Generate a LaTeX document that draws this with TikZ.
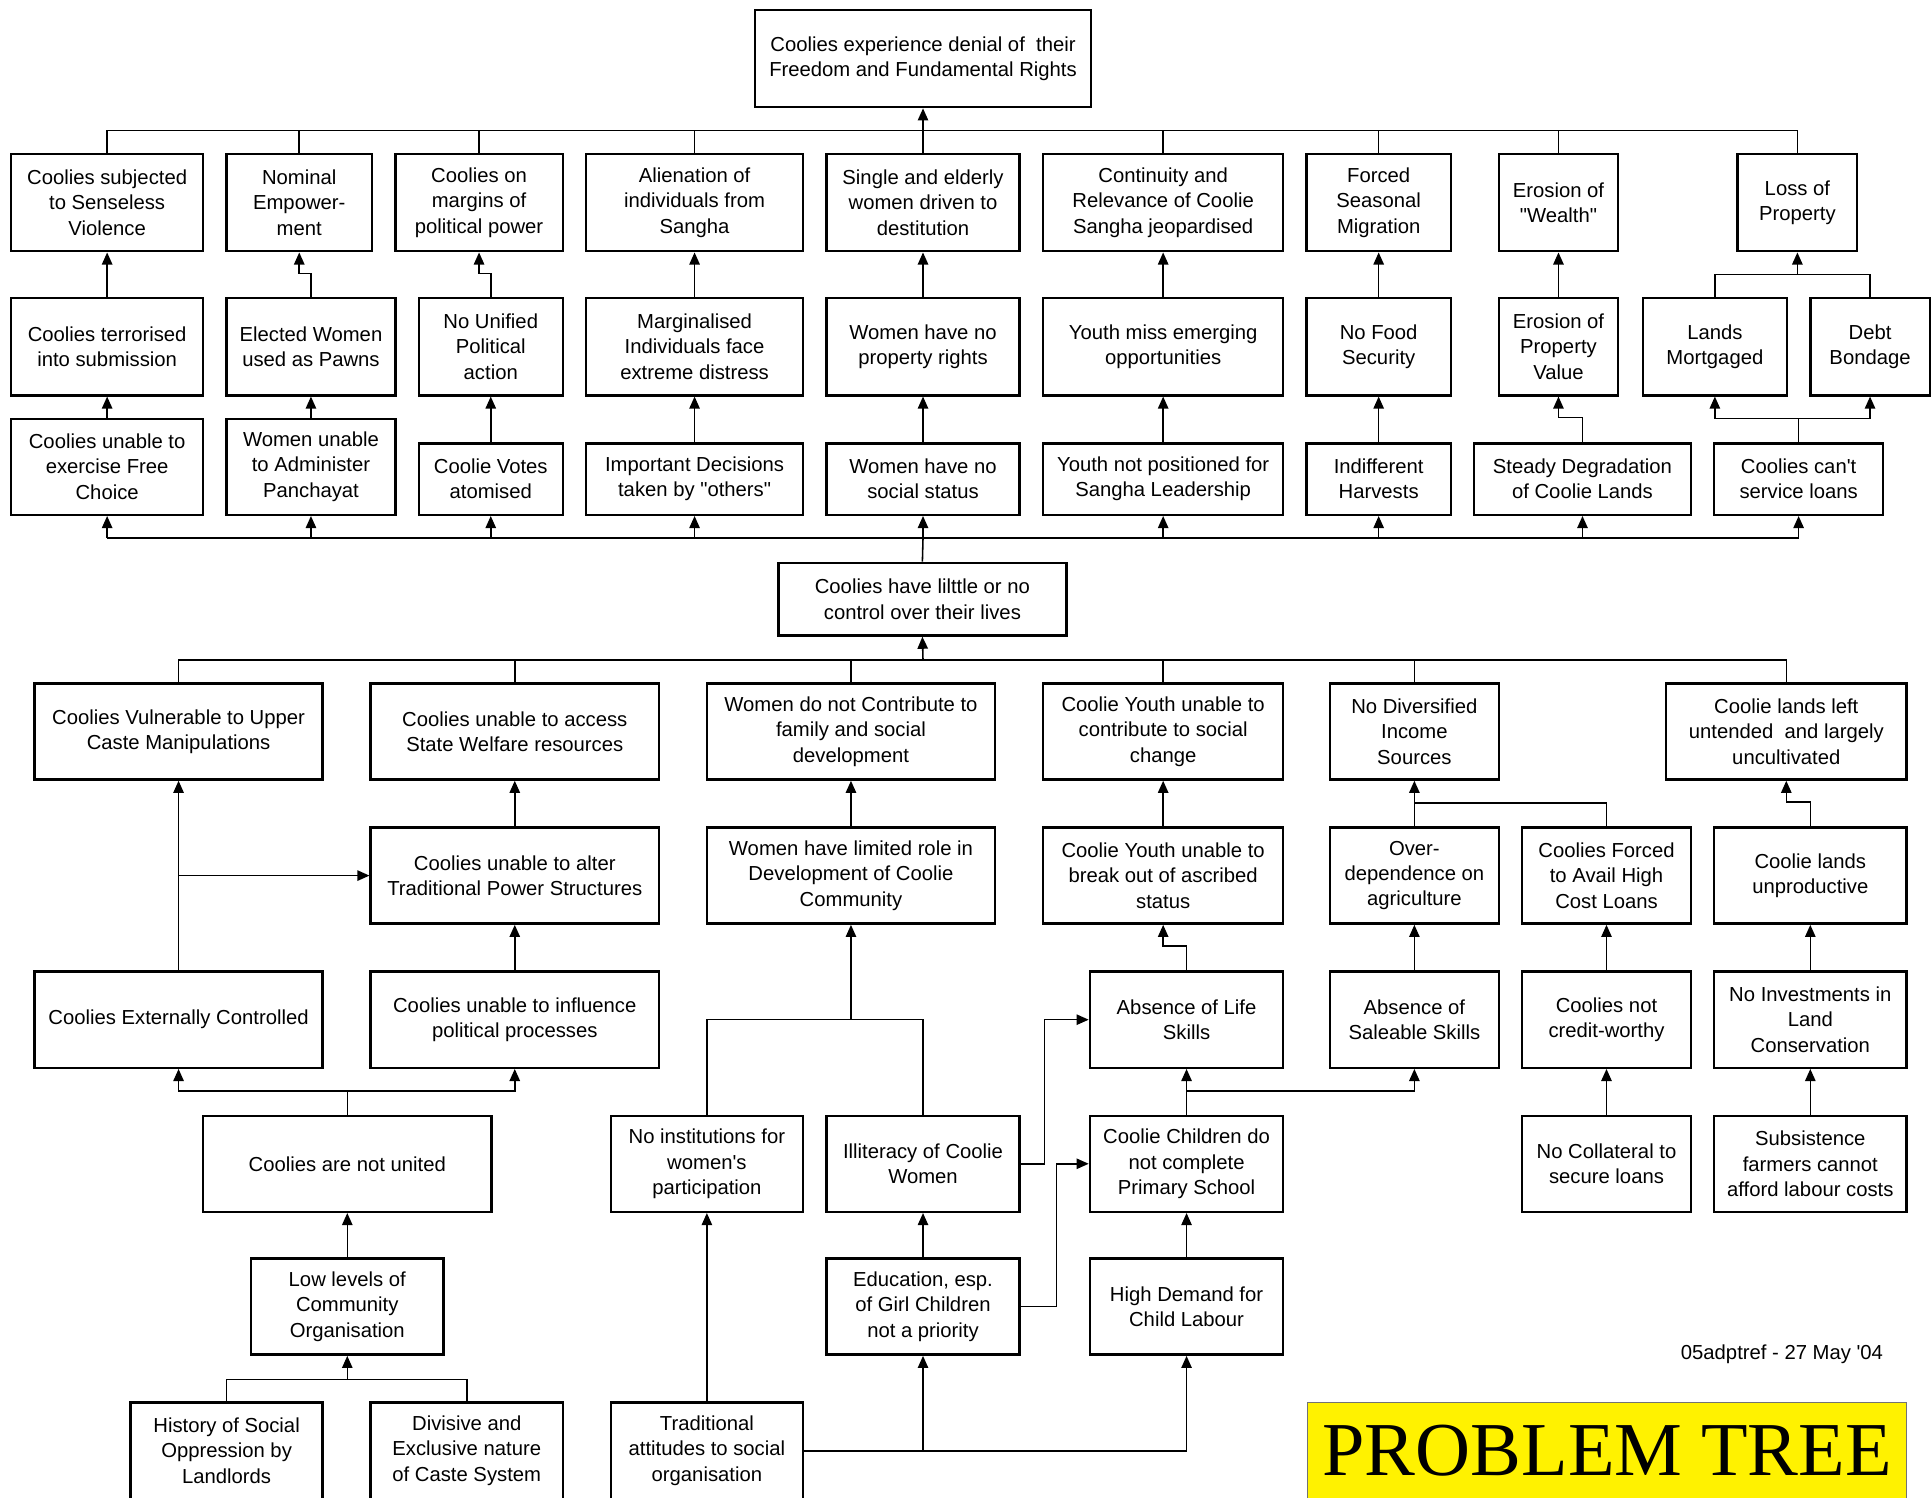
\documentclass[tikz,border=0pt]{standalone}
\usepackage{fontspec}
\usepackage{tikz}
\usetikzlibrary{arrows.meta}
\newfontfamily\treefont{Liberation Sans}
\newfontfamily\bannerfont{Liberation Serif}

\begin{document}
\begin{tikzpicture}[x=0.025cm,y=-0.025cm,
  box/.style={draw,line width=1.4pt,align=center,inner sep=0pt,
    font=\treefont\fontsize{11.7}{14.6}\selectfont},
  wd/.style={minimum width=#1*0.025cm},
  ht/.style={minimum height=#1*0.025cm},
  conn/.style={line width=0.9pt},
  arr/.style={line width=0.9pt,-{Triangle[length=7pt,width=6pt]}}]
\useasboundingbox (0,0) rectangle (1568,1216);
\clip (0,0) rectangle (1568,1216);

% the core problem on top
\node[box,wd=273,ht=79] (root) at (749.5,47.5) {Coolies experience denial of\ \ their\\Freedom and Fundamental Rights};

% effects
\node[box,wd=156,ht=79] (ua1) at (87,164.5) {Coolies subjected\\to Senseless\\Violence};
\node[box,wd=118,ht=79] (ua2) at (243,164.5) {Nominal\\Empower-\\ment};
\node[box,wd=136,ht=79] (ua3) at (389,164.5) {Coolies on\\margins of\\political power};
\node[box,wd=176,ht=79] (ua4) at (564,164.5) {Alienation of\\individuals from\\Sangha};
\node[box,wd=157,ht=79] (ua5) at (749.5,164.5) {Single and elderly\\women driven to\\destitution};
\node[box,wd=195,ht=79] (ua6) at (944.5,164.5) {Continuity and\\Relevance of Coolie\\Sangha jeopardised};
\node[box,wd=117,ht=79] (ua7) at (1119.5,164.5) {Forced\\Seasonal\\Migration};
\node[box,wd=97,ht=79] (ua8) at (1265.5,164.5) {Erosion of\\"Wealth"};
\node[box,wd=97,ht=79] (ua9) at (1459.5,164.5) {Loss of\\Property};

\node[box,wd=156,ht=79] (ub1) at (87,281.5) {Coolies terrorised\\into submission};
\node[box,wd=137,ht=79] (ub2) at (252.5,281.5) {Elected Women\\used as Pawns};
\node[box,wd=117,ht=79] (ub3) at (398.5,281.5) {No Unified\\Political\\action};
\node[box,wd=176,ht=79] (ub4) at (564,281.5) {Marginalised\\Individuals face\\extreme distress};
\node[box,wd=157,ht=79] (ub5) at (749.5,281.5) {Women have no\\property rights};
\node[box,wd=195,ht=79] (ub6) at (944.5,281.5) {Youth miss emerging\\opportunities};
\node[box,wd=117,ht=79] (ub7) at (1119.5,281.5) {No Food\\Security};
\node[box,wd=97,ht=79] (ub8) at (1265.5,281.5) {Erosion of\\Property\\Value};
\node[box,wd=117,ht=79] (ub9) at (1392.5,281.5) {Lands\\Mortgaged};
\node[box,wd=97,ht=79] (ub10) at (1518.5,281.5) {Debt\\Bondage};

\node[box,wd=156,ht=78] (uc1) at (87,379) {Coolies unable to\\exercise Free\\Choice};
\node[box,wd=137,ht=78] (uc2) at (252.5,379) {Women unable\\to Administer\\Panchayat};
\node[box,wd=117,ht=58] (uc3) at (398.5,389) {Coolie Votes\\atomised};
\node[box,wd=176,ht=58] (uc4) at (564,389) {Important Decisions\\taken by "others"};
\node[box,wd=157,ht=58] (uc5) at (749.5,389) {Women have no\\social status};
\node[box,wd=195,ht=58] (uc6) at (944.5,389) {Youth not positioned for\\Sangha Leadership};
\node[box,wd=117,ht=58] (uc7) at (1119.5,389) {Indifferent\\Harvests};
\node[box,wd=176,ht=58] (uc8) at (1285,389) {Steady Degradation\\of Coolie Lands};
\node[box,wd=137,ht=58] (uc9) at (1460.5,389) {Coolies can't\\service loans};

\node[box,wd=234,ht=59] (core) at (749,486.5) {Coolies have lilttle or no\\control over their lives};

% causes
\node[box,wd=234,ht=78] (la1) at (145,594) {Coolies Vulnerable to Upper\\Caste Manipulations};
\node[box,wd=234,ht=78] (la2) at (418,594) {Coolies unable to access\\State Welfare resources};
\node[box,wd=234,ht=78] (la3) at (691,594) {Women do not Contribute to\\family and social\\development};
\node[box,wd=195,ht=78] (la4) at (944.5,594) {Coolie Youth unable to\\contribute to social\\change};
\node[box,wd=137,ht=78] (la5) at (1148.5,594) {No Diversified\\Income\\Sources};
\node[box,wd=195,ht=78] (la6) at (1450.5,594) {Coolie lands left\\untended\ \ and largely\\uncultivated};

\node[box,wd=234,ht=78] (lb1) at (418,711) {Coolies unable to alter\\Traditional Power Structures};
\node[box,wd=234,ht=78] (lb2) at (691,711) {Women have limited role in\\Development of Coolie\\Community};
\node[box,wd=195,ht=78] (lb3) at (944.5,711) {Coolie Youth unable to\\break out of ascribed\\status};
\node[box,wd=137,ht=78] (lb4) at (1148.5,711) {Over-\\dependence on\\agriculture};
\node[box,wd=137,ht=78] (lb5) at (1304.5,711) {Coolies Forced\\to Avail High\\Cost Loans};
\node[box,wd=156,ht=78] (lb6) at (1470,711) {Coolie lands\\unproductive};

\node[box,wd=234,ht=78] (lc1) at (145,828) {Coolies Externally Controlled};
\node[box,wd=234,ht=78] (lc2) at (418,828) {Coolies unable to influence\\political processes};
\node[box,wd=157,ht=78] (lc3) at (963.5,828) {Absence of Life\\Skills};
\node[box,wd=137,ht=78] (lc4) at (1148.5,828) {Absence of\\Saleable Skills};
\node[box,wd=137,ht=78] (lc5) at (1304.5,828) {Coolies not\\credit-worthy};
\node[box,wd=156,ht=78] (lc6) at (1470,828) {No Investments in\\Land\\Conservation};

\node[box,wd=234,ht=78] (ld1) at (282,945) {Coolies are not united};
\node[box,wd=156,ht=78] (ld2) at (574,945) {No institutions for\\women's\\participation};
\node[box,wd=157,ht=78] (ld3) at (749.5,945) {Illiteracy of Coolie\\Women};
\node[box,wd=157,ht=78] (ld4) at (963.5,945) {Coolie Children do\\not complete\\Primary School};
\node[box,wd=137,ht=78] (ld5) at (1304.5,945) {No Collateral to\\secure loans};
\node[box,wd=156,ht=78] (ld6) at (1470,945) {Subsistence\\farmers cannot\\afford labour costs};

\node[box,wd=156,ht=78] (le1) at (282,1061) {Low levels of\\Community\\Organisation};
\node[box,wd=157,ht=78] (le2) at (749.5,1061) {Education, esp.\\of Girl Children\\not a priority};
\node[box,wd=157,ht=78] (le3) at (963.5,1061) {High Demand for\\Child Labour};

\node[box,wd=156,ht=78] (lf1) at (184,1178) {History of Social\\Oppression by\\Landlords};
\node[box,wd=156,ht=78] (lf2) at (379,1178) {Divisive and\\Exclusive nature\\of Caste System};
\node[box,wd=156,ht=78] (lf3) at (574,1178) {Traditional\\attitudes to social\\organisation};

\node[anchor=east,font=\treefont\fontsize{11.7}{14.6}\selectfont] (stamp) at (1534,1100) {05adptref - 27 May '04};
\node[draw=black!55,fill=yellow,line width=0.6pt,wd=486,ht=78,inner sep=0pt,
  font=\bannerfont\fontsize{44}{50}\selectfont] (banner) at (1305,1178) {PROBLEM TREE};

% junctions
\coordinate (bus1) at (749.5,106);
\coordinate (jloss) at (1459.5,223);
\coordinate (jloans) at (1460.5,340);
\coordinate (bus2) at (749.5,437);
\coordinate (bus3) at (749.5,536);
\coordinate (jincome) at (1148.5,652);
\coordinate (jwomen) at (691,828);
\coordinate (junited) at (282,886);
\coordinate (jschool) at (963.5,886);
\coordinate (jcaste) at (282,1120);

% upper tree
\draw[conn] (ua1.north) |- (bus1) -| (ua9.north);
\draw[conn] (ua2.north) -- (ua2.north |- bus1) (ua3.north) -- (ua3.north |- bus1)
  (ua4.north) -- (ua4.north |- bus1) (ua5.north) -- (bus1)
  (ua6.north) -- (ua6.north |- bus1) (ua7.north) -- (ua7.north |- bus1)
  (ua8.north) -- (ua8.north |- bus1);
\draw[arr] (bus1) -- (root.south);

\draw[arr] (ub1.north) -- (ua1.south);
\draw[arr] (ub2.north) -- ++(0,-19) -| (ua2.south);
\draw[arr] (ub3.north) -- ++(0,-19) -| (ua3.south);
\draw[arr] (ub4.north) -- (ua4.south);
\draw[arr] (ub5.north) -- (ua5.south);
\draw[arr] (ub6.north) -- (ua6.south);
\draw[arr] (ub7.north) -- (ua7.south);
\draw[arr] (ub8.north) -- (ua8.south);
\draw[conn] (ub9.north) |- (jloss) -| (ub10.north);
\draw[arr] (jloss) -- (ua9.south);

\draw[arr] (uc1.north) -- (ub1.south);
\draw[arr] (uc2.north) -- (ub2.south);
\draw[arr] (uc3.north) -- (ub3.south);
\draw[arr] (uc4.north) -- (ub4.south);
\draw[arr] (uc5.north) -- (ub5.south);
\draw[arr] (uc6.north) -- (ub6.south);
\draw[arr] (uc7.north) -- (ub7.south);
\draw[arr] (uc8.north) -- ++(0,-20) -| (ub8.south);
\draw[conn] (uc9.north) -- (jloans);
\draw[arr] (jloans) -| (ub9.south);
\draw[arr] (jloans) -| (ub10.south);

\draw[conn] (core.north) -- (bus2);
\draw[conn] (uc1.south |- bus2) -- (uc9.south |- bus2);
\draw[arr] (uc1.south |- bus2) -- (uc1.south);
\draw[arr] (uc2.south |- bus2) -- (uc2.south);
\draw[arr] (uc3.south |- bus2) -- (uc3.south);
\draw[arr] (uc4.south |- bus2) -- (uc4.south);
\draw[arr] (bus2) -- (uc5.south);
\draw[arr] (uc6.south |- bus2) -- (uc6.south);
\draw[arr] (uc7.south |- bus2) -- (uc7.south);
\draw[arr] (uc8.south |- bus2) -- (uc8.south);
\draw[arr] (uc9.south |- bus2) -- (uc9.south);

% lower tree
\draw[conn] (la1.north) |- (bus3) -| (la6.north);
\draw[conn] (la2.north) -- (la2.north |- bus3) (la3.north) -- (la3.north |- bus3)
  (la4.north) -- (la4.north |- bus3) (la5.north) -- (la5.north |- bus3);
\draw[arr] (bus3) -- (core.south);

\draw[arr] (lc1.north) -- (la1.south);
\draw[arr] (lc1.north |- lb1.west) -- (lb1.west);
\draw[arr] (lb1.north) -- (la2.south);
\draw[arr] (lc2.north) -- (lb1.south);
\draw[conn] (ld1.north) -- (junited);
\draw[arr] (junited) -| (lc1.south);
\draw[arr] (junited) -| (lc2.south);
\draw[arr] (le1.north) -- (ld1.south);
\draw[conn] (lf1.north) |- (jcaste) -| (lf2.north);
\draw[arr] (jcaste) -- (le1.south);

\draw[arr] (lb2.north) -- (la3.south);
\draw[conn] (ld2.north) |- (jwomen) -| (ld3.north);
\draw[arr] (jwomen) -- (lb2.south);
\draw[arr] (ld3.east) -- ++(19,0) |- (lc3.west);
\draw[arr] (le2.north) -- (ld3.south);
\draw[arr] (le2.east) -- ++(29,0) |- (ld4.west);
\draw[arr] (lf3.north) -- (ld2.south);
\draw[arr] (lf3.east) -| (le3.south);
\draw[arr] (lf3.east -| le2.south) -- (le2.south);

\draw[arr] (lb3.north) -- (la4.south);
\draw[arr] (lc3.north) -- ++(0,-20) -| (lb3.south);
\draw[arr] (ld4.north) -- (lc3.south);
\draw[arr] (jschool) -| (lc4.south);
\draw[arr] (le3.north) -- (ld4.south);

\draw[arr] (lb4.north) -- (la5.south);
\draw[conn] (lb5.north) |- (jincome);
\draw[arr] (lc4.north) -- (lb4.south);
\draw[arr] (lc5.north) -- (lb5.south);
\draw[arr] (ld5.north) -- (lc5.south);

\draw[arr] (lb6.north) -- ++(0,-20) -| (la6.south);
\draw[arr] (lc6.north) -- (lb6.south);
\draw[arr] (ld6.north) -- (lc6.south);

\end{tikzpicture}
\end{document}
